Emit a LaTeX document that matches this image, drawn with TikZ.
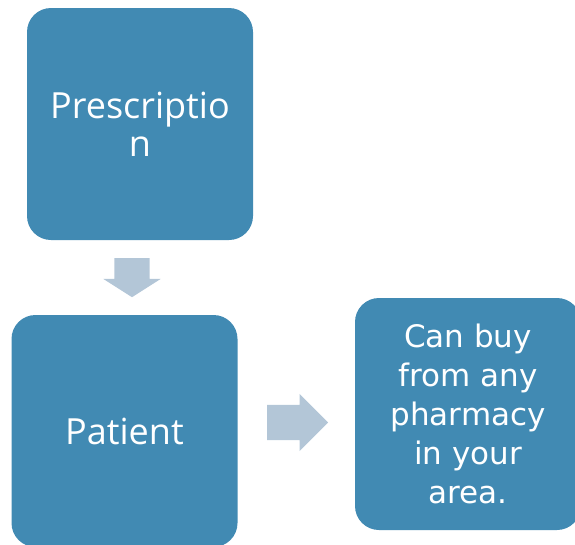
\documentclass[tikz,border=0pt]{standalone}
\usepackage{fontspec}
\newfontfamily\boxfont{Open Sans}
\newfontfamily\notefont{DejaVu Sans}
\usetikzlibrary{shapes.arrows}
\definecolor{boxblue}{HTML}{418AB3}
\definecolor{arrowgrey}{HTML}{B3C6D7}
\tikzstyle{step box}=[fill=boxblue,rounded corners=24pt,minimum width=226pt,minimum height=232pt,inner sep=0pt,text=white,align=center]
\tikzstyle{block arrow}=[single arrow,fill=arrowgrey,inner xsep=0pt,inner ysep=17.5pt,minimum width=57pt,single arrow head extend=11pt,anchor=tail]

\begin{document}
\begin{tikzpicture}[x=1pt,y=-1pt]
	\clip (0,0) rectangle (575,544);
	\useasboundingbox (0,0) rectangle (575,544);

	%boxes
	\node[step box,font=\boxfont\fontsize{36}{38}\selectfont] (prescription) at (140,124) {Prescriptio\\n};
	\node[step box,font=\boxfont\fontsize{36}{38}\selectfont] (patient) at (124.5,431) {Patient};
	\node[step box,font=\notefont\fontsize{31}{39}\selectfont] (pharmacy) at (468,414)
		{Can buy\\from any\\pharmacy\\in your\\area.};

	%arrows
	\node[block arrow,shape border rotate=270,inner xsep=17.5pt,inner ysep=0pt,single arrow tip angle=115,minimum height=39pt] (down) at (132,258) {};
	\node[block arrow,minimum height=61pt] (right) at (267,422.5) {};
\end{tikzpicture}
\end{document}
